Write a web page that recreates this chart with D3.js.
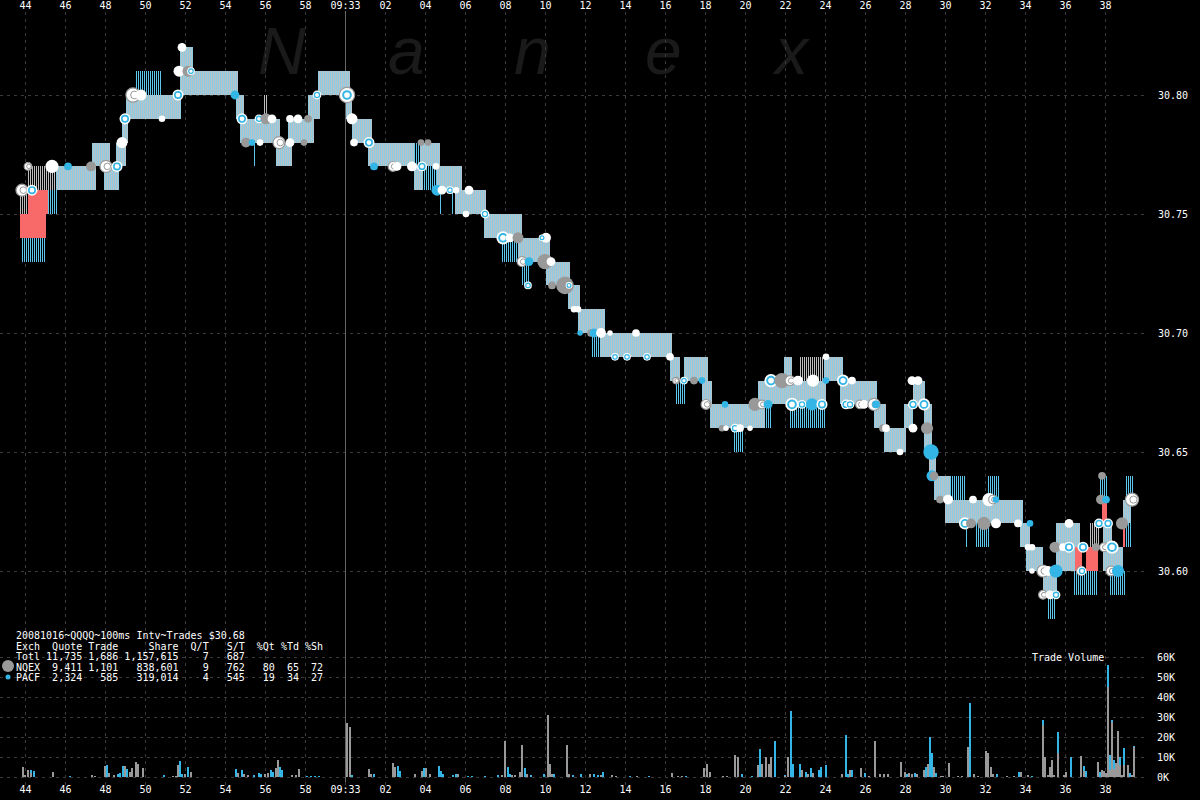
<!DOCTYPE html>
<html><head><meta charset="utf-8">
<script src="https://cdn.jsdelivr.net/npm/d3@7"></script>
<style>html,body{margin:0;padding:0;background:#000;} svg{display:block;}</style>
</head><body><svg id="c" width="1200" height="800"></svg>
<script>
// ---------- DATA ----------
// time in seconds relative to 09:33:00
const timeTicks = d3.range(-16, 39, 2);
const priceTicks = [30.60, 30.65, 30.70, 30.75, 30.80];
const volTicks = [0, 10, 20, 30, 40, 50, 60];
const watermark = ["N", "a", "n", "e", "x"];
const watermarkPos = [258, 388, 514, 645, 775];

// quote bands: [tStart, tEnd, low, high, kind]  b=band, r=crossed, l=blue lines, g=gray lines
const quoteBands = [
 [-16.25,-14.95,30.74,30.75,'r'],[-15.85,-14.85,30.75,30.76,'r'],[-16.2,-14.95,30.73,30.74,'l'],
 [-16.25,-15.85,30.75,30.76,'g'],[-14.85,-14.35,30.75,30.76,'l'],[-15.85,-14.45,30.76,30.77,'g'],
 [-14.45,-12.45,30.76,30.77,'b'],[-12.65,-11.75,30.77,30.78,'b'],[-12.05,-11.3,30.76,30.77,'b'],
 [-11.45,-10.95,30.77,30.78,'b'],[-11.15,-10.85,30.78,30.79,'b'],[-10.95,-8.2,30.79,30.80,'b'],
 [-10.5,-9.15,30.80,30.81,'l'],[-8.25,-7.6,30.80,30.82,'b'],[-7.7,-5.35,30.80,30.81,'b'],
 [-5.45,-5.05,30.79,30.80,'b'],[-5.25,-3.25,30.78,30.79,'b'],[-4.05,-3.85,30.79,30.80,'g'],
 [-4.6,-4.5,30.77,30.78,'l'],[-3.45,-2.65,30.77,30.78,'b'],[-2.85,-1.55,30.78,30.79,'b'],
 [-1.85,-1.25,30.79,30.80,'b'],[-1.35,0.25,30.80,30.81,'b'],[0.05,0.35,30.79,30.80,'b'],
 [0.35,1.35,30.78,30.79,'b'],[1.15,3.45,30.77,30.78,'b'],[3.45,3.75,30.77,30.78,'l'],
 [3.75,4.75,30.77,30.78,'b'],[3.45,3.9,30.76,30.77,'b'],[3.9,4.6,30.76,30.77,'l'],
 [4.6,5.85,30.76,30.77,'b'],[4.75,4.85,30.75,30.76,'l'],[5.3,5.4,30.75,30.76,'l'],
 [5.5,7.05,30.75,30.76,'b'],[6.95,8.85,30.74,30.75,'b'],[7.85,8.65,30.73,30.74,'l'],
 [8.65,10.25,30.73,30.74,'b'],[8.8,9.25,30.72,30.73,'l'],[10.05,11.25,30.72,30.73,'b'],
 [11.15,11.75,30.71,30.72,'b'],[11.65,13.0,30.70,30.71,'b'],[12.35,12.75,30.69,30.70,'l'],
 [12.75,16.35,30.69,30.70,'b'],[16.25,16.75,30.68,30.69,'b'],[16.95,18.15,30.68,30.69,'b'],
 [16.55,17.05,30.67,30.68,'l'],[17.85,18.35,30.67,30.68,'b'],[18.25,21.0,30.66,30.67,'b'],
 [21.0,21.35,30.66,30.67,'l'],[19.45,19.95,30.65,30.66,'l'],[20.65,24.05,30.67,30.68,'b'],
 [22.25,24.05,30.66,30.67,'l'],[21.95,22.35,30.68,30.69,'b'],[22.75,23.95,30.68,30.69,'g'],
 [23.95,24.9,30.68,30.69,'b'],[24.4,24.45,30.66,30.67,'l'],[24.75,26.6,30.67,30.68,'b'],
 [25.3,25.35,30.66,30.67,'l'],[25.9,25.95,30.66,30.67,'l'],[26.45,27.05,30.66,30.67,'b'],
 [26.95,28.05,30.65,30.66,'b'],[27.95,28.4,30.66,30.67,'b'],[28.4,29.0,30.67,30.68,'b'],
 [28.95,29.35,30.65,30.67,'b'],[29.2,29.55,30.64,30.65,'b'],[29.45,30.25,30.63,30.64,'b'],
 [30.25,31.05,30.63,30.64,'l'],[30.0,33.9,30.62,30.63,'b'],[32.15,32.75,30.63,30.64,'l'],
 [31.05,31.1,30.61,30.62,'l'],[31.55,32.25,30.61,30.62,'l'],[33.75,34.25,30.61,30.62,'b'],
 [34.2,34.25,30.62,30.63,'l'],[34.05,34.9,30.60,30.61,'b'],[34.9,35.6,30.59,30.60,'b'],
 [35.15,35.5,30.58,30.59,'l'],[35.55,36.75,30.60,30.62,'b'],[36.45,37.05,30.59,30.60,'l'],
 [36.5,36.85,30.60,30.61,'r'],[37.05,37.65,30.60,30.61,'r'],[37.05,37.65,30.59,30.60,'l'],
 [37.25,37.75,30.61,30.62,'g'],[37.85,38.1,30.62,30.63,'r'],[37.7,38.15,30.63,30.64,'l'],
 [37.9,38.9,30.60,30.61,'b'],[37.9,38.35,30.61,30.62,'b'],[38.25,39.05,30.59,30.60,'l'],
 [38.9,39.3,30.62,30.63,'b'],[38.9,39.0,30.61,30.62,'r'],[39.05,39.4,30.63,30.64,'l'],
 [38.9,39.3,30.61,30.62,'l']
];

// trades: [t, price, style, radius]   g=NQEX, b=PACF, w=white, wb=white/blue ring, wg=white/gray ring
const trades = [
 [-16.15,30.76,'wg',6],[-15.65,30.76,'wb',5],[-15.85,30.77,'wg',4],[-14.65,30.77,'w',6],[-13.85,30.77,'b',3.5],
 [-12.7,30.77,'g',4.5],[-11.95,30.77,'wg',6],[-11.4,30.77,'wb',5],[-11.15,30.78,'w',5],[-11.0,30.79,'wb',5],
 [-10.6,30.80,'wg',7],[-10.2,30.80,'w',5],[-9.15,30.79,'w',3],[-8.35,30.80,'wb',5],[-8.15,30.82,'w',4],
 [-8.3,30.81,'w',5],[-7.85,30.81,'g',5],[-7.7,30.81,'wb',3.5],[-5.5,30.80,'b',4],[-5.15,30.79,'wb',5],
 [-4.95,30.78,'g',4.5],[-4.65,30.78,'b',3],[-4.25,30.78,'w',3],[-4.3,30.79,'wb',4],[-3.95,30.79,'g',5],
 [-3.65,30.79,'w',4],[-3.3,30.78,'wg',6],[-2.75,30.78,'w',4],[-2.05,30.78,'g',3],[-2.75,30.79,'w',3.5],
 [-2.35,30.79,'w',4],[-1.85,30.79,'g',3.5],[-1.4,30.80,'wb',4],[0.1,30.80,'wg',7.5],[0.1,30.80,'wb',6],
 [0.35,30.79,'w',5],[0.45,30.78,'w',3.5],[1.2,30.78,'wb',5],[1.45,30.77,'b',3.5],[2.4,30.77,'wg',5],
 [2.6,30.77,'w',4],[3.35,30.77,'w',4.5],[3.85,30.77,'wb',4.5],[4.55,30.77,'w',3],[3.8,30.78,'g',3],
 [4.15,30.78,'g',3],[4.6,30.76,'b',5],[4.85,30.76,'w',4],[5.25,30.76,'wb',3.5],[5.55,30.76,'w',3],
 [6.2,30.76,'w',4],[6.05,30.75,'w',3],[7.0,30.75,'wb',4],[7.9,30.74,'wb',6],[8.25,30.74,'w',4],
 [8.65,30.74,'g',5],[10.05,30.74,'w',4.5],[9.85,30.74,'wb',3],[8.85,30.73,'wg',5],[9.2,30.73,'b',4],
 [10.0,30.73,'g',7],[10.3,30.73,'w',4],[10.35,30.72,'g',3.5],[11.0,30.72,'g',8],[11.2,30.72,'wb',3],
 [9.15,30.72,'wb',3.5],[11.45,30.71,'w',3],[11.65,30.71,'w',3],[11.75,30.70,'b',2.5],[12.3,30.70,'g',3.5],
 [12.45,30.70,'b',4],[12.8,30.70,'w',4.5],[13.25,30.70,'w',2.5],[14.55,30.70,'w',3.5],[13.5,30.69,'wb',3.5],
 [14.1,30.69,'wb',3.5],[15.1,30.69,'wb',3.5],[16.25,30.69,'w',3.5],[16.55,30.68,'wg',3.5],[16.95,30.68,'wb',3.5],
 [17.45,30.68,'g',3.5],[17.85,30.68,'b',3],[18.05,30.67,'wg',5],[19.0,30.67,'b',3],[18.85,30.66,'g',3],
 [19.05,30.66,'w',2.5],[19.5,30.66,'wb',4],[19.75,30.66,'w',3.5],[20.25,30.66,'w',2.5],[20.5,30.67,'g',6],
 [20.85,30.67,'wg',4.5],[21.15,30.67,'b',4],[21.3,30.68,'wb',6],[21.85,30.68,'g',7],[22.25,30.68,'wg',5],
 [22.65,30.68,'w',4.5],[23.4,30.68,'w',5.5],[24.05,30.68,'b',3],[24.05,30.69,'w',3],[22.35,30.67,'wb',6],
 [22.85,30.67,'wb',4],[23.35,30.67,'b',5.5],[23.85,30.67,'wb',5],[24.9,30.68,'wb',5.5],[25.35,30.68,'w',3.5],
 [25.05,30.67,'wb',4.5],[25.25,30.67,'wb',4],[25.75,30.67,'wg',4.5],[25.95,30.67,'w',4],[26.45,30.67,'wg',6],
 [26.55,30.67,'b',3.5],[26.9,30.66,'g',3.5],[27.05,30.66,'w',3.5],[28.4,30.66,'w',4],[27.75,30.65,'w',3],
 [28.35,30.68,'w',4],[28.65,30.68,'w',4],[28.4,30.67,'wb',4.5],[28.95,30.67,'wb',5.5],[29.1,30.66,'g',5.5],
 [29.3,30.65,'b',7],[29.35,30.64,'b',5],[29.45,30.64,'g',4],[29.75,30.63,'g',3.5],[30.15,30.63,'w',4.5],
 [31.0,30.62,'wb',5.5],[31.3,30.62,'g',4.5],[31.95,30.62,'g',6],[32.55,30.62,'w',4.5],[31.4,30.63,'w',3.5],
 [32.2,30.63,'w',6],[32.4,30.63,'wg',4.5],[32.55,30.63,'b',3],[33.65,30.62,'w',3.5],[34.25,30.62,'b',3],
 [34.15,30.61,'w',3],[34.35,30.61,'w',3],[34.35,30.60,'w',2.5],[34.9,30.60,'wg',6],[35.15,30.60,'w',4.5],
 [35.55,30.60,'b',6],[34.9,30.59,'wg',4.5],[35.25,30.59,'w',4],[35.55,30.59,'wb',4],[36.2,30.62,'w',4],
 [35.5,30.61,'g',5],[35.9,30.61,'w',3.5],[36.2,30.61,'wb',5],[36.9,30.61,'wb',5],[36.8,30.60,'wg',4.5],
 [36.85,30.60,'wb',4],[37.55,30.61,'g',3.5],[37.95,30.61,'wg',4.5],[38.35,30.61,'wb',6],[37.7,30.62,'wb',4.5],
 [38.15,30.62,'wb',4.5],[38.85,30.62,'g',5.5],[37.8,30.63,'g',4.5],[38.05,30.63,'b',3.5],[37.85,30.64,'g',3.5],
 [39.35,30.63,'wg',6.5],[38.3,30.60,'wg',5],[38.65,30.60,'b',5.5]
];

// trade volume per 100ms interval (thousands of shares)
const volT = [-16.15,-16.05,-15.9,-15.75,-15.6,-14.65,-13.8,-12.7,-12.55,-12.05,-11.95,-11.85,-11.6,-11.4,-11.3,-11.15,-11.05,-10.95,-10.8,-10.7,-10.5,-10.4,-10.15,-9.1,-8.65,-8.5,-8.4,-8.3,-8.2,-8.05,-7.9,-7.75,-5.5,-5.4,-5.2,-5.1,-4.9,-4.6,-4.35,-4.25,-4.05,-3.9,-3.75,-3.65,-3.5,-3.4,-3.3,-3.2,-2.7,-2.5,-2.35,-1.95,-1.75,-1.55,-1.35,0.05,0.2,0.3,1.15,1.25,1.4,2.35,2.45,2.6,2.7,3.45,3.8,3.9,4.0,4.2,4.65,4.75,4.85,5.35,5.5,5.6,6.1,6.3,6.95,7.6,7.8,7.95,8.1,8.2,8.3,8.45,8.7,8.8,8.95,9.05,9.25,9.9,10.1,10.2,10.3,10.4,11.05,11.15,11.35,11.75,12.2,12.4,12.6,12.75,12.85,13.3,13.5,14.2,14.55,15.15,16.3,16.6,16.8,17.0,17.9,18.05,18.2,18.85,19.05,19.45,19.6,19.8,20.3,20.6,20.7,20.8,21.0,21.15,21.25,21.45,21.95,22.1,22.25,22.35,22.7,22.8,23.0,23.1,23.25,23.35,23.65,23.75,24.0,24.8,25.0,25.1,25.2,25.3,25.75,25.95,26.15,26.45,26.7,26.9,27.1,27.75,27.95,28.05,28.15,28.3,28.45,28.55,28.9,29.0,29.1,29.2,29.3,29.4,29.5,29.75,29.85,30.15,30.6,30.8,31.1,31.2,31.4,31.6,32.0,32.1,32.25,32.35,32.55,33.05,33.4,33.65,33.75,34.1,34.3,34.85,34.95,35.1,35.2,35.3,35.4,35.6,35.9,36.0,36.25,36.75,36.9,37.0,37.6,37.7,37.8,37.9,38.0,38.1,38.2,38.3,38.4,38.5,38.6,38.7,38.8,38.9,39.1,39.2,39.3,39.4];
const volNQEX = [5,1,3.7,2,0,2.3,0,1,0.5,5.7,0,2,1,0,0,0,5.7,0,2.3,4.7,7.3,6.7,4.7,0,0.5,0.5,5.8,0,0,1.5,0,2.7,0,2,0,1.5,1,0,0,0,1.5,2,0,0,4.7,8.3,0,0,1,1,4,0,0,0,0,27,25,0,4,1.7,0,7,5,0,0,1.3,3,0,4.7,1.3,0,0,0,0,0,1.7,0,0,0,0,1,18,0,0,1,1,2.3,16,0,1.7,0,0,31,6.3,1.7,0,16,1.7,0,0,1.7,0,0,1,0,1,0.7,0,0.7,0,2,0.7,0.7,0,4.7,6.7,2.7,0.7,0.7,11,10,0,0,6,0,6.7,10,6.7,10,0,0.5,10,0,0,0,3.3,0,1.7,0,2,0,0,0,1.3,0,0,3.7,0,4.7,0,0.7,18,1.7,1.7,1.7,7.3,2.5,0,2,1.7,0,1.7,3.3,0,6.7,0,0,5,0,0.5,0.5,7,0.5,0.5,15,0,1.3,0.7,13,12,5,1.7,0,0.7,0.7,0,2.5,1,0,26,10,1,5,8.7,1,12,1,2.5,0,10.7,3,0,7.5,0,3.5,3,2,45,3.7,27.5,4,7,22.8,6,1,6,6,0,1,15];
const volPACF = [0,0,0,1.5,3,0,0.5,0,0,0,6,0,0,1.3,2,5.3,0,4,0,0,0,0,0,1,0,0,0,8,1.3,0,5,0,4,0,3.3,0,0,1,2,1.5,0,0,3.7,2.7,0,0,5,3.3,0,0,0,0.5,0.5,0.5,0.5,0,0,1,0,0,1.3,0,0,5.7,3,0,0,4.7,0,0,5.7,3,1.7,1,1.3,0,0.7,0.7,0.7,1,0,0,5,1.7,0,0,0,0,4.7,0,1,1.3,0,0,0,1.7,0,0,1,1.7,0,1.7,1,0,2.3,0,0,0.7,0,0.7,0,0,0,0.7,0,0,0,0,0,0,0,1.3,0.7,0,14,0,0,0,0,18,0.5,0,33,6.7,6.3,0,2.5,0,4.3,0,3.7,5,6,0,21,1.7,0,3.7,0,2,0,0,0,0,0,0,0,1.7,0,0,2,0,0,5,0,20,12,0,2,0,0,0,0,0,0,37,0,0,0,0,0,0,1.7,0,0,2.3,0,0,0.5,2.7,0,0,0,0,0,10.5,0,0,10,0,2.7,2.8,0,2.5,0,0,0,11,7.5,1,4.3,0,0,4,0,8.5,0,2,0,0.5];

const legendLines = [
 "20081016~QQQQ~100ms Intv~Trades $30.68",
 "Exch  Quote Trade     Share  Q/T   S/T  %Qt %Td %Sh",
 "Totl 11,735 1,686 1,157,615    7   687",
 "NQEX  9,411 1,101   838,601    9   762   80  65  72",
 "PACF  2,324   585   319,014    4   545   19  34  27"
];

// ---------- DRAW ----------
const W = 1200, H = 800;
const MONO = "'DejaVu Sans Mono', 'Liberation Mono', monospace";
const C_BLUE = "#33b5e5", C_GRAY = "#999999", C_RED = "#f86a6a", C_GRID = "#3a3a3a";
const svg = d3.select("#c");
svg.append("rect").attr("width", W).attr("height", H).attr("fill", "#000");

const x = d3.scaleLinear().domain([-17.25, 39.75]).range([0, 1140]);
const y = d3.scaleLinear().domain([30.60, 30.80]).range([571, 95]);
const yv = d3.scaleLinear().domain([0, 60]).range([777, 657]);

// patterns
const defs = svg.append("defs");
function pat(id, c1, c2) {
  const p = defs.append("pattern").attr("id", id).attr("patternUnits", "userSpaceOnUse")
    .attr("width", 2).attr("height", 10);
  p.append("rect").attr("x", 0).attr("y", 0).attr("width", 1).attr("height", 10).attr("fill", c1);
  p.append("rect").attr("x", 1).attr("y", 0).attr("width", 1).attr("height", 10).attr("fill", c2);
}
pat("pb", "#8ccbe2", "#b9c3c7");
pat("pl", "#5cc6ec", "#000");
pat("pg", "#bdbdbd", "#000");

// watermark
svg.append("g").selectAll("text").data(watermark).join("text")
  .attr("x", (d, i) => watermarkPos[i]).attr("y", 74)
  .attr("font-family", "'Liberation Sans', Arial, sans-serif").attr("font-style", "italic")
  .attr("font-size", 66).attr("fill", "#1a1a1a").text(d => d);

// grid
const grid = svg.append("g").attr("stroke", C_GRID).attr("stroke-dasharray", "3,4").attr("stroke-width", 1);
grid.selectAll(".gv").data(timeTicks).join("line")
  .attr("x1", d => Math.round(x(d)) + 0.5).attr("x2", d => Math.round(x(d)) + 0.5)
  .attr("y1", 12).attr("y2", 786);
grid.selectAll(".gp").data(priceTicks).join("line")
  .attr("x1", 0).attr("x2", 1146)
  .attr("y1", d => Math.round(y(d)) + 0.5).attr("y2", d => Math.round(y(d)) + 0.5);
grid.selectAll(".gvv").data(volTicks).join("line")
  .attr("x1", 0).attr("x2", 1146)
  .attr("y1", d => Math.round(yv(d)) + 0.5).attr("y2", d => Math.round(yv(d)) + 0.5);

// minute line
svg.append("line").attr("x1", Math.round(x(0)) + 0.5).attr("x2", Math.round(x(0)) + 0.5)
  .attr("y1", 11).attr("y2", 782).attr("stroke", "#666").attr("stroke-width", 1);

// quote bands
const order = {l: 0, g: 0, b: 1, r: 2};
const fillOf = {b: "url(#pb)", l: "url(#pl)", g: "url(#pg)", r: C_RED};
const bandsSorted = quoteBands.slice().sort((a, b) => order[a[4]] - order[b[4]]);
svg.append("g").attr("shape-rendering", "crispEdges").selectAll("rect").data(bandsSorted).join("rect")
  .attr("x", d => Math.round(x(d[0])))
  .attr("width", d => Math.max(1, Math.round(x(d[1])) - Math.round(x(d[0]))))
  .attr("y", d => Math.round(y(d[3])))
  .attr("height", d => Math.round(y(d[2])) - Math.round(y(d[3])))
  .attr("fill", d => fillOf[d[4]]);

// trades
const tg = svg.append("g");
const K = 1.1;
trades.forEach(d => {
  const cx = x(d[0]), cy = y(d[1]), r = d[3] * K, s = d[2];
  if (s === 'g') {
    tg.append("circle").attr("cx", cx).attr("cy", cy).attr("r", r).attr("fill", C_GRAY);
  } else if (s === 'b') {
    tg.append("circle").attr("cx", cx).attr("cy", cy).attr("r", r).attr("fill", C_BLUE);
  } else if (s === 'w') {
    tg.append("circle").attr("cx", cx).attr("cy", cy).attr("r", r).attr("fill", "#fff");
  } else if (s === 'wb') {
    tg.append("circle").attr("cx", cx).attr("cy", cy).attr("r", r).attr("fill", "#fff");
    tg.append("circle").attr("cx", cx).attr("cy", cy).attr("r", r * 0.58).attr("fill", "none")
      .attr("stroke", C_BLUE).attr("stroke-width", Math.max(1.2, r * 0.3));
  } else if (s === 'wg') {
    tg.append("circle").attr("cx", cx).attr("cy", cy).attr("r", r - 0.6).attr("fill", "#fff")
      .attr("stroke", C_GRAY).attr("stroke-width", 1.2);
    tg.append("circle").attr("cx", cx + r * 0.2).attr("cy", cy).attr("r", r * 0.5).attr("fill", "none")
      .attr("stroke", C_GRAY).attr("stroke-width", 1);
  }
});

// volume bars (stacked: NQEX gray bottom, PACF blue top)
const vb = svg.append("g").attr("shape-rendering", "crispEdges");
const bw = t => Math.max(1, Math.round(x(t + 0.1)) - Math.round(x(t)));
const volRows = volT.map((t, i) => [t, volNQEX[i], volPACF[i]]);
vb.selectAll(".vg").data(volRows.filter(d => d[1] > 0))
  .join("rect").attr("x", d => Math.round(x(d[0]))).attr("width", d => bw(d[0]))
  .attr("y", d => yv(d[1])).attr("height", d => yv(0) - yv(d[1])).attr("fill", C_GRAY);
vb.selectAll(".vb").data(volRows.filter(d => d[2] > 0))
  .join("rect").attr("x", d => Math.round(x(d[0]))).attr("width", d => bw(d[0]))
  .attr("y", d => yv(d[1] + d[2])).attr("height", d => yv(d[1]) - yv(d[1] + d[2])).attr("fill", C_BLUE);

// axes
const tfmt = t => t < 0 ? String(60 + t) : (t === 0 ? "09:33" : d3.format("02d")(t));
function styleAxis(g) {
  g.select(".domain").remove();
  g.selectAll("line").remove();
  g.selectAll("text").attr("fill", "#fff").attr("font-family", MONO).attr("font-size", 10);
}
svg.append("g").attr("transform", "translate(0,10)")
  .call(d3.axisTop(x).tickValues(timeTicks).tickSize(0).tickPadding(1).tickFormat(tfmt)).call(styleAxis);
svg.append("g").attr("transform", "translate(0,783)")
  .call(d3.axisBottom(x).tickValues(timeTicks).tickSize(0).tickPadding(3).tickFormat(tfmt)).call(styleAxis);
svg.append("g").attr("transform", "translate(1155,0)")
  .call(d3.axisRight(y).tickValues(priceTicks).tickSize(0).tickPadding(3).tickFormat(d3.format(".2f"))).call(styleAxis);
svg.append("g").attr("transform", "translate(1155,0)")
  .call(d3.axisRight(yv).tickValues(volTicks).tickSize(0).tickPadding(2).tickFormat(d => d + "K")).call(styleAxis);

svg.append("text").attr("x", 1032).attr("y", 661).attr("fill", "#fff")
  .attr("font-family", MONO).attr("font-size", 10).text("Trade Volume");

// legend
const lg = svg.append("g");
lg.selectAll("text").data(legendLines).join("text")
  .attr("x", 16).attr("y", (d, i) => 639 + i * 10.6)
  .attr("xml:space", "preserve").style("white-space", "pre")
  .attr("fill", "#fff").attr("font-family", MONO).attr("font-size", 10).text(d => d);
lg.append("circle").attr("cx", 8).attr("cy", 666).attr("r", 6).attr("fill", C_GRAY);
lg.append("circle").attr("cx", 8).attr("cy", 677).attr("r", 2.5).attr("fill", C_BLUE);
</script></body></html>
